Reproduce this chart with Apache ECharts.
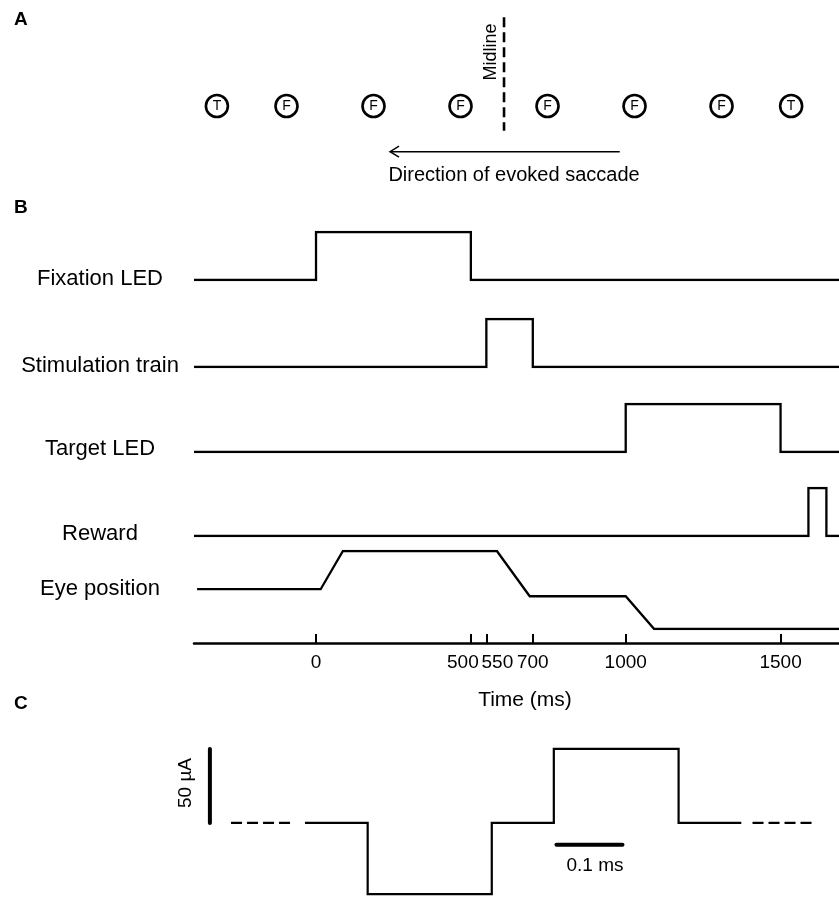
<!DOCTYPE html>
<html><head><meta charset="utf-8">
<script src="https://cdn.jsdelivr.net/npm/echarts@6/dist/echarts.min.js"></script>
<style>html,body{margin:0;padding:0;background:#fff}#c{width:839px;height:897px}</style>
</head><body><div id="c"></div>
<script>
// ---------- Panel A : LED layout (deg from midline) ----------
const ledLabels = ['T', 'F', 'F', 'F', 'F', 'F', 'F', 'T'];
const ledPositions = [-33, -25, -15, -5, 5, 15, 25, 33];
const midlineSpan = [10.2, -2.85];          // elevation extent of the midline (deg)
const saccadeArrow = [13.3, -13.1, -5.25];  // from x, to x, row (deg)

// ---------- Panel B : trial timing (ms) ----------
const signalNames = ['Fixation LED', 'Stimulation train', 'Target LED', 'Reward', 'Eye position'];
const fixationLED = [[-394, 0], [0, 0], [0, 1], [500, 1], [500, 0], [1700, 0]];
const stimulationTrain = [[-394, 0], [550, 0], [550, 1], [700, 1], [700, 0], [1700, 0]];
const targetLED = [[-394, 0], [1000, 0], [1000, 1], [1500, 1], [1500, 0], [1700, 0]];
const rewardSignal = [[-394, 0], [1590, 0], [1590, 1], [1648, 1], [1648, 0], [1700, 0]];
const eyePosition = [[-384, 0.51], [15, 0.51], [87, 1], [584, 1], [690, 0.42], [1000, 0.42], [1092, 0], [1700, 0]];
const timeTicks = [0, 500, 550, 700, 1000, 1500];

// ---------- Panel C : biphasic pulse (ms, µA) ----------
const pulseSolid = [[-0.095, 0], [0, 0], [0, -48], [0.188, -48], [0.188, 0], [0.282, 0], [0.282, 50], [0.471, 50], [0.471, 0], [0.566, 0]];
const pulseDashLeft = [[-0.207, 0], [-0.113, 0]];
const pulseDashRight = [[0.583, 0], [0.679, 0]];
const currentScaleBar = [[-0.239, 0], [-0.239, 50]];   // 50 µA
const timeScaleBar = [[0.286, -14.7], [0.386, -14.7]]; // 0.1 ms

// ---------- layout ----------
const FONT = '"Liberation Sans", Arial, Helvetica, sans-serif';
const laneTop = [232, 319, 404, 488, 551];
const laneHeight = [48, 48, 48, 48, 78];
const laneLabelY = [279, 366, 449, 534, 589];
const signals = [fixationLED, stimulationTrain, targetLED, rewardSignal, eyePosition];

const chart = echarts.init(document.getElementById('c'), null, {renderer: 'canvas'});

const grids = [{left: 199.5, right: 0, top: 0, height: 200}];
const xAxes = [{type: 'value', gridIndex: 0, min: -35, max: 38.5, show: false}];
const yAxes = [{type: 'value', gridIndex: 0, min: -10.805, max: 12.184, show: false}];
laneTop.forEach((t, i) => {
  grids.push({left: 194, right: 0, top: t, height: laneHeight[i]});
  const isLast = i === laneTop.length - 1;
  xAxes.push({
    type: 'value', gridIndex: i + 1, min: -394, max: 1688.7, show: isLast,
    offset: 14,
    splitLine: {show: false},
    axisLine: {show: true, onZero: false, lineStyle: {color: '#000', width: 2.5}},
    axisTick: {show: true, inside: true, length: 9, customValues: timeTicks, lineStyle: {color: '#000', width: 2}},
    axisLabel: {
      show: true, customValues: timeTicks, margin: 10, color: '#000', fontSize: 19, fontFamily: FONT,
      formatter: v => v === 500 ? '{l|500}' : v === 550 ? '{r|550}' : String(v),
      rich: {
        l: {fontSize: 19, fontFamily: FONT, color: '#000', padding: [0, 16, 0, 0]},
        r: {fontSize: 19, fontFamily: FONT, color: '#000', padding: [0, 0, 0, 22]}
      }
    }
  });
  yAxes.push({type: 'value', gridIndex: i + 1, min: 0, max: 1, show: false});
});
grids.push({left: 200, right: 0, top: 740, height: 157});
xAxes.push({type: 'value', gridIndex: 6, min: -0.254, max: 0.714, show: false});
yAxes.push({type: 'value', gridIndex: 6, min: -50, max: 56, show: false});

const black = '#000';
const series = [];
// Panel A
series.push({
  type: 'line', xAxisIndex: 0, yAxisIndex: 0, data: [[0, midlineSpan[0]], [0, midlineSpan[1]]],
  symbol: 'none', lineStyle: {color: black, width: 2.6, type: [10, 5]}, silent: true
});
series.push({
  type: 'scatter', xAxisIndex: 0, yAxisIndex: 0,
  data: ledPositions.map(x => [x, 0]),
  symbol: 'circle', symbolSize: 22,
  itemStyle: {color: '#fff', borderColor: black, borderWidth: 2.6, opacity: 1},
  label: {show: true, position: 'inside', formatter: p => ledLabels[p.dataIndex], color: black, fontSize: 14, fontFamily: FONT}
});
series.push({
  type: 'custom', xAxisIndex: 0, yAxisIndex: 0, data: [saccadeArrow],
  renderItem: (params, api) => {
    const s = api.coord([api.value(0), api.value(2)]);
    const e = api.coord([api.value(1), api.value(2)]);
    const style = {stroke: black, lineWidth: 1.5, fill: null};
    return {type: 'group', children: [
      {type: 'line', shape: {x1: s[0], y1: s[1], x2: e[0], y2: e[1]}, style},
      {type: 'polyline', shape: {points: [[e[0] + 9, e[1] - 5.5], [e[0], e[1]], [e[0] + 9, e[1] + 5.5]]}, style}
    ]};
  }
});
// Panel B
signals.forEach((d, i) => {
  series.push({
    type: 'line', name: signalNames[i], xAxisIndex: i + 1, yAxisIndex: i + 1, data: d,
    symbol: 'none', clip: true, lineStyle: {color: black, width: 2.3, join: 'miter', cap: 'butt'}
  });
});
// Panel C
const cIdx = 6;
series.push({type: 'line', xAxisIndex: cIdx, yAxisIndex: cIdx, data: pulseSolid, symbol: 'none', lineStyle: {color: black, width: 2.2, join: 'miter'}});
series.push({type: 'line', xAxisIndex: cIdx, yAxisIndex: cIdx, data: pulseDashLeft, symbol: 'none', lineStyle: {color: black, width: 2.2, type: [11, 5]}});
series.push({type: 'line', xAxisIndex: cIdx, yAxisIndex: cIdx, data: pulseDashRight, symbol: 'none', lineStyle: {color: black, width: 2.2, type: [11, 5]}});
series.push({type: 'line', xAxisIndex: cIdx, yAxisIndex: cIdx, data: currentScaleBar, symbol: 'none', lineStyle: {color: black, width: 4, cap: 'round'}});
series.push({type: 'line', xAxisIndex: cIdx, yAxisIndex: cIdx, data: timeScaleBar, symbol: 'none', lineStyle: {color: black, width: 4, cap: 'round'}});

function txt(text, x, y, size, opts) {
  opts = opts || {};
  return {
    type: 'text', x, y, rotation: opts.rotation || 0, silent: true,
    style: {text, x: 0, y: 0, fill: black, fontSize: size, fontFamily: FONT, fontWeight: opts.bold ? 'bold' : 'normal',
      align: opts.align || 'center', verticalAlign: 'middle'}
  };
}
const graphics = [
  txt('A', 14, 20, 19, {bold: true, align: 'left'}),
  txt('B', 14, 208, 19, {bold: true, align: 'left'}),
  txt('C', 14, 704, 19, {bold: true, align: 'left'}),
  txt('Midline', 491, 52, 18, {rotation: Math.PI / 2}),
  txt('Direction of evoked saccade', 514, 175, 20),
  txt('Time (ms)', 525, 700, 21),
  txt('50 µA', 186, 783, 19, {rotation: Math.PI / 2}),
  txt('0.1 ms', 595, 866, 19)
];
signalNames.forEach((n, i) => graphics.push(txt(n, 100, laneLabelY[i], 22)));

chart.setOption({
  animation: false,
  backgroundColor: '#fff',
  grid: grids, xAxis: xAxes, yAxis: yAxes,
  series,
  graphic: graphics
});
</script></body></html>
